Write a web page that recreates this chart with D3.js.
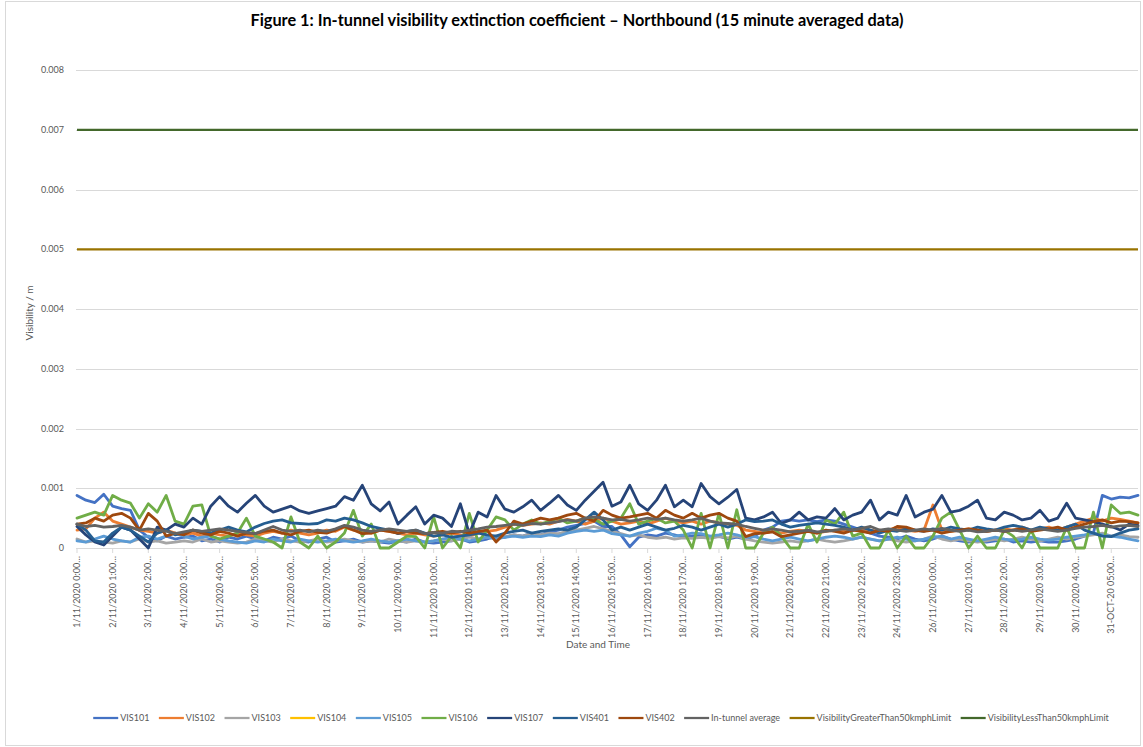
<!DOCTYPE html>
<html lang="en">
<head>
<meta charset="utf-8">
<style>
  body { margin: 0; background: #fff; }
  text { font-family: Lato, "Open Sans", sans-serif; fill: #595959; }
  .grid line { stroke: #d9d9d9; stroke-width: 1px; }
  .series { fill: none; stroke-width: 2.8px; stroke-linejoin: round; stroke-linecap: round; }
</style>
</head>
<body>
<svg width="1143" height="747"></svg>
<script src="https://d3js.org/d3.v7.min.js"></script>
<script>
// category labels shown on the x axis (one every 4 samples)
var tickLabels = ["1/11/2020 0:00", "2/11/2020 1:00", "3/11/2020 2:00", "4/11/2020 3:00", "5/11/2020 4:00",
    "6/11/2020 5:00", "7/11/2020 6:00", "8/11/2020 7:00", "9/11/2020 8:00", "10/11/2020 9:00",
    "11/11/2020 10:00", "12/11/2020 11:00", "13/11/2020 12:00", "14/11/2020 13:00", "15/11/2020 14:00",
    "16/11/2020 15:00", "17/11/2020 16:00", "18/11/2020 17:00", "19/11/2020 18:00", "20/11/2020 19:00",
    "21/11/2020 20:00", "22/11/2020 21:00", "23/11/2020 22:00", "24/11/2020 23:00", "26/11/2020 0:00",
    "27/11/2020 1:00", "28/11/2020 2:00", "29/11/2020 3:00", "30/11/2020 4:00", "31-OCT-20 05:00"];
var tickEvery = 4;

var yTicks = [0, 0.001, 0.002, 0.003, 0.004, 0.005, 0.006, 0.007, 0.008];

var vis101 = [0.00088,0.0008,0.00076,0.0009,0.0007,0.00066,0.00063,0.0003,0.00018,0.00012,
    0.0002,0.00015,0.00018,0.0002,0.00012,0.00015,0.0001,0.00018,0.00015,0.0002,
    0.00015,0.00012,0.00018,0.00015,0.0002,0.00012,0.0001,0.00015,0.00018,0.0001,
    0.00012,0.00015,0.0001,0.00012,0.0001,0.00008,0.00012,0.0001,0.00015,0.0001,
    0.00008,0.0001,0.00012,0.00015,0.0001,0.00012,0.00015,0.0002,0.00018,0.00022,
    0.0002,0.00025,0.00022,0.00027,0.0003,0.00035,0.00038,0.00041,0.00045,0.00036,
    0.00036,0.00022,0.00002,0.00018,0.00022,0.0002,0.00025,0.00022,0.00018,0.0002,
    0.00022,0.00018,0.0002,0.00015,0.00018,0.00015,0.0002,0.0003,0.00035,0.00045,
    0.00047,0.00045,0.00047,0.00044,0.00047,0.00045,0.0004,0.00035,0.0003,0.00025,
    0.0002,0.00018,0.00015,0.0002,0.00015,0.00012,0.00015,0.0002,0.00015,0.00012,
    0.0001,0.00012,0.0001,0.00012,0.00015,0.0001,0.00012,0.0001,0.00012,0.0001,
    0.0001,0.00012,0.00015,0.0002,0.00025,0.00088,0.00082,0.00085,0.00084,0.00088];

var vis102 = [0.0003,0.00032,0.0005,0.0006,0.00045,0.0004,0.00035,0.0003,0.00028,0.00025,
    0.0003,0.00025,0.00022,0.00025,0.0002,0.00025,0.00022,0.0002,0.00025,0.00022,
    0.0002,0.00025,0.00028,0.00025,0.0003,0.00025,0.00022,0.00025,0.0003,0.00028,
    0.00035,0.0003,0.00028,0.00025,0.0003,0.00028,0.00025,0.00022,0.00025,0.00022,
    0.0002,0.00022,0.00025,0.00022,0.0002,0.00025,0.00028,0.0003,0.00035,0.0004,
    0.00038,0.0004,0.00042,0.0004,0.00045,0.00048,0.00045,0.0004,0.00045,0.0005,
    0.00045,0.0004,0.00042,0.00045,0.0004,0.00045,0.0005,0.00045,0.00042,0.00045,
    0.0004,0.00045,0.00042,0.0004,0.00038,0.0003,0.00028,0.00025,0.00028,0.00025,
    0.00028,0.0003,0.00028,0.00025,0.00028,0.0003,0.00028,0.0003,0.00032,0.0003,
    0.00028,0.0003,0.00035,0.0003,0.00028,0.0003,0.00072,0.0003,0.00028,0.0003,
    0.00032,0.0003,0.00028,0.0003,0.00032,0.0003,0.00035,0.0003,0.00032,0.00035,
    0.0003,0.00035,0.0004,0.00045,0.0005,0.00045,0.0005,0.00048,0.00045,0.00042];

var vis103 = [0.00015,0.0001,0.00012,0.0001,0.00008,0.00012,0.0001,0.00015,0.0001,0.00012,
    0.00008,0.0001,0.00012,0.0001,0.00015,0.0001,0.00012,0.0001,0.00008,0.0001,
    0.00015,0.00012,0.0001,0.00015,0.00012,0.0001,0.00012,0.00015,0.0001,0.00012,
    0.00015,0.00012,0.0001,0.00012,0.0001,0.00015,0.00012,0.0001,0.00012,0.0001,
    0.00012,0.00015,0.00012,0.00015,0.00018,0.00015,0.00018,0.0002,0.00019,0.00022,
    0.0002,0.00024,0.00022,0.00025,0.00024,0.00028,0.0003,0.00033,0.00036,0.00032,
    0.00028,0.00024,0.0002,0.00022,0.00018,0.00016,0.00018,0.00015,0.00017,0.00016,
    0.00018,0.00016,0.00019,0.00017,0.0002,0.00015,0.00012,0.0001,0.00008,0.0001,
    0.00012,0.0001,0.00012,0.00015,0.00012,0.0001,0.00012,0.00015,0.00018,0.00015,
    0.00012,0.00015,0.00012,0.0001,0.00012,0.00015,0.0002,0.00015,0.00012,0.00015,
    0.00012,0.0001,0.00012,0.00015,0.00012,0.00015,0.00018,0.00015,0.00012,0.00015,
    0.00018,0.00015,0.00018,0.0002,0.00022,0.00025,0.0002,0.00022,0.00019,0.00018];

// VIS104 shows no readings in the chart
var vis104 = [];

var vis105 = [0.00012,0.0001,0.00015,0.0002,0.00015,0.00012,0.0001,0.00018,0.0002,0.00015,
    0.0002,0.00025,0.0002,0.00015,0.00018,0.0002,0.00015,0.00012,0.0001,0.00008,
    0.00012,0.0001,0.00015,0.00012,0.0001,0.00015,0.00012,0.0001,0.00012,0.00015,
    0.00012,0.0001,0.00012,0.00015,0.00012,0.0001,0.00012,0.00015,0.00012,0.0001,
    0.00012,0.00015,0.00018,0.00015,0.00012,0.00015,0.00018,0.00015,0.00018,0.0002,
    0.00018,0.0002,0.00019,0.00022,0.0002,0.00025,0.00028,0.0003,0.00028,0.0003,
    0.00024,0.00022,0.0002,0.00025,0.00028,0.00033,0.0003,0.0002,0.00022,0.00025,
    0.00024,0.0002,0.00022,0.00025,0.00022,0.00018,0.00019,0.00015,0.00012,0.00015,
    0.00018,0.00015,0.00012,0.00015,0.00018,0.0002,0.00018,0.00015,0.00018,0.00015,
    0.00012,0.00015,0.00018,0.00015,0.00012,0.00015,0.00018,0.0002,0.00015,0.00018,
    0.00015,0.00012,0.00015,0.00018,0.00015,0.00013,0.00015,0.00018,0.00015,0.00013,
    0.00015,0.00018,0.0002,0.00022,0.00025,0.00022,0.0002,0.00018,0.00015,0.00012];

var vis106 = [0.0005,0.00055,0.0006,0.00055,0.00088,0.0008,0.00075,0.0005,0.00074,0.0006,
    0.00088,0.00045,0.0004,0.0007,0.00072,0.0002,0.00015,0.0002,0.00025,0.0005,
    0.0002,0.00015,0.0001,0,0.00052,0.0001,0,0.0002,0,0.0001,
    0.00025,0.00063,0.0002,0.0004,0,0,0.0001,0.0002,0.00019,0,
    0.00052,0,0.0002,0,0.00058,0.0001,0.0003,0.00052,0.00047,0.0003,
    0.0004,0.00047,0.0004,0.00045,0.0005,0.00042,0.00045,0.0005,0.00048,0.0004,
    0.00045,0.0005,0.00074,0.0004,0.00045,0.0005,0.00042,0.00045,0.0003,0,
    0.00058,0,0.00058,0,0.00064,0,0,0.00025,0.00035,0.0002,
    0,0,0.0004,0.0001,0.00047,0.0004,0.0006,0.0002,0.00025,0,
    0,0.0003,0,0.0002,0,0,0.0002,0.0005,0.0006,0.0003,
    0,0.0002,0,0,0.0003,0.0002,0,0.0003,0,0,
    0,0.00035,0,0,0.0006,0,0.00072,0.00058,0.0006,0.00055];

var vis107 = [0.00036,0.00022,0.0001,0.00005,0.0002,0.00035,0.0003,0.00015,0,0.00035,
    0.0003,0.0004,0.00035,0.0005,0.0004,0.0007,0.00086,0.0007,0.0006,0.00075,
    0.00088,0.0007,0.0006,0.00065,0.0007,0.00062,0.00058,0.00062,0.00066,0.0007,
    0.00086,0.0008,0.00105,0.00074,0.00062,0.00077,0.0004,0.00055,0.00069,0.0004,
    0.00055,0.0005,0.00036,0.00074,0.00024,0.0006,0.00052,0.00088,0.00065,0.0006,
    0.00069,0.0008,0.00063,0.00075,0.00088,0.00072,0.00063,0.0008,0.00095,0.0011,
    0.0007,0.00077,0.00105,0.00074,0.00063,0.0008,0.00105,0.00069,0.0008,0.00069,
    0.00108,0.00086,0.00074,0.00085,0.00098,0.0005,0.00047,0.00052,0.0006,0.00041,
    0.00047,0.0006,0.00047,0.00052,0.0005,0.00066,0.00047,0.00055,0.0006,0.0008,
    0.00047,0.0006,0.00055,0.00088,0.00052,0.0006,0.00065,0.00088,0.0006,0.00063,
    0.0007,0.0008,0.0005,0.00047,0.0006,0.00055,0.00047,0.0005,0.00063,0.00045,
    0.0005,0.00075,0.0005,0.00047,0.00044,0.0004,0.00036,0.0003,0.0004,0.00038];

var vis401 = [0.0004,0.0003,0.00012,0.0001,0.00025,0.00035,0.0003,0.0002,0.0001,0.00025,
    0.0003,0.00022,0.00025,0.0003,0.00028,0.00025,0.0003,0.00035,0.0003,0.00027,
    0.00035,0.00041,0.00045,0.00047,0.00042,0.00041,0.0004,0.00041,0.00047,0.00045,
    0.0005,0.00047,0.00042,0.00036,0.00033,0.0003,0.00024,0.00028,0.0003,0.00025,
    0.0002,0.00022,0.00018,0.0002,0.00022,0.00025,0.00022,0.0002,0.00025,0.00028,
    0.0003,0.00025,0.00028,0.0003,0.00032,0.0003,0.00035,0.00047,0.0006,0.00047,
    0.0003,0.00035,0.0003,0.00035,0.0004,0.00035,0.0003,0.00033,0.00038,0.00035,
    0.0003,0.00035,0.0004,0.00035,0.0004,0.00047,0.00044,0.00045,0.00047,0.0004,
    0.00035,0.00038,0.0004,0.00042,0.0004,0.00038,0.00035,0.0003,0.00035,0.0003,
    0.00025,0.0003,0.00028,0.00032,0.0003,0.00028,0.00032,0.0003,0.00035,0.00032,
    0.0003,0.00035,0.00032,0.0003,0.00035,0.00038,0.00035,0.0003,0.00035,0.00032,
    0.0003,0.00035,0.0004,0.0003,0.00025,0.0002,0.00019,0.00025,0.0003,0.00032];

var vis402 = [0.0004,0.00042,0.0005,0.00045,0.00055,0.00058,0.0005,0.0003,0.00058,0.00045,
    0.0002,0.00025,0.00022,0.0003,0.00025,0.00022,0.00028,0.00025,0.0002,0.00025,
    0.00024,0.00028,0.0003,0.00025,0.00022,0.00028,0.0003,0.00026,0.00025,0.0003,
    0.00036,0.0003,0.00024,0.00025,0.0003,0.00028,0.00025,0.00028,0.00025,0.00024,
    0.00026,0.00028,0.00025,0.00028,0.00025,0.00028,0.0003,0.0001,0.00025,0.00045,
    0.0004,0.00045,0.0005,0.00047,0.0005,0.00055,0.00058,0.0005,0.00045,0.00063,
    0.00055,0.0005,0.00052,0.00055,0.00058,0.0005,0.00063,0.00055,0.0005,0.00058,
    0.0005,0.00055,0.00058,0.0005,0.00045,0.00019,0.00024,0.00025,0.00027,0.00019,
    0.00022,0.00025,0.00028,0.00025,0.0003,0.00028,0.00025,0.0003,0.00028,0.00025,
    0.0003,0.00028,0.00036,0.00035,0.0003,0.00028,0.0003,0.00025,0.00028,0.0003,
    0.00032,0.0003,0.00028,0.0003,0.00028,0.0003,0.00032,0.00028,0.0003,0.00032,
    0.00035,0.0003,0.00035,0.0004,0.00044,0.00047,0.00042,0.00045,0.00044,0.00042];

var tunnelAverage = [0.0004,0.00036,0.00038,0.00035,0.00036,0.00038,0.00035,0.0003,0.00032,0.0003,
    0.00028,0.00024,0.00027,0.0003,0.00028,0.0003,0.00032,0.0003,0.00028,0.00026,
    0.00024,0.0003,0.00036,0.0003,0.00028,0.0003,0.00027,0.0003,0.00028,0.00032,
    0.00038,0.00035,0.0003,0.00028,0.0003,0.00032,0.0003,0.00028,0.0003,0.00024,
    0.00026,0.00025,0.00028,0.00027,0.0003,0.00032,0.00035,0.00036,0.00038,0.0004,
    0.00038,0.00041,0.0004,0.00042,0.00044,0.00047,0.00045,0.0005,0.00052,0.0005,
    0.00047,0.00048,0.00045,0.00047,0.0005,0.00048,0.0005,0.00047,0.00045,0.00047,
    0.0005,0.00045,0.00042,0.00041,0.0004,0.00036,0.00033,0.0003,0.00032,0.0003,
    0.00027,0.00028,0.0003,0.00027,0.00028,0.0003,0.00032,0.0003,0.00033,0.00036,
    0.0003,0.00032,0.0003,0.00028,0.0003,0.00032,0.0003,0.00033,0.0003,0.00028,
    0.0003,0.00027,0.00028,0.0003,0.00028,0.0003,0.00028,0.0003,0.00032,0.0003,
    0.00028,0.0003,0.00033,0.00035,0.00036,0.00038,0.00035,0.00037,0.00038,0.00036];

// limits are flat across the whole period
var greaterLimit = 0.005;
var lessLimit = 0.007;

var seriesNames = ["VIS101", "VIS102", "VIS103", "VIS104", "VIS105", "VIS106", "VIS107", "VIS401", "VIS402",
    "In-tunnel average", "VisibilityGreaterThan50kmphLimit", "VisibilityLessThan50kmphLimit"];
var seriesColors = ["#4472c4", "#ed7d31", "#a5a5a5", "#ffc000", "#5b9bd5", "#70ad47", "#264478", "#255e91",
    "#9e480e", "#636363", "#997300", "#43682b"];

var svg = d3.select("svg"),
    width = +svg.attr("width"),
    height = +svg.attr("height");

var n = vis101.length;
var x = d3.scaleLinear().domain([0, n - 1]).range([77, 1138]);
var y = d3.scaleLinear().domain([0, 0.008]).range([548, 70]);

// chart border
svg.append("rect")
    .attr("x", 5.5).attr("y", 1.5)
    .attr("width", 1135).attr("height", 744)
    .attr("fill", "none").attr("stroke", "#d9d9d9");

svg.append("text")
    .attr("x", 577).attr("y", 26)
    .attr("text-anchor", "middle")
    .style("font-size", "16.3px").style("font-weight", "bold").style("fill", "#000")
    .text("Figure 1: In-tunnel visibility extinction coefficient \u2013 Northbound (15 minute averaged data)");

// gridlines + y labels
var grid = svg.append("g").attr("class", "grid");
grid.selectAll("line").data(yTicks).enter().append("line")
    .attr("x1", 76).attr("x2", 1138)
    .attr("y1", function (d) { return Math.round(y(d)) + 0.5; })
    .attr("y2", function (d) { return Math.round(y(d)) + 0.5; });

svg.append("g").selectAll("text").data(yTicks).enter().append("text")
    .attr("x", 64)
    .attr("y", function (d) { return y(d); })
    .attr("dy", "0.35em")
    .attr("text-anchor", "end")
    .style("font-size", "9px")
    .text(function (d) { return d === 0 ? "0" : d3.format(".3f")(d); });

svg.append("text")
    .attr("transform", "translate(33," + 313 + ") rotate(-90)")
    .attr("text-anchor", "middle")
    .style("font-size", "10px")
    .text("Visibility / m");

// x ticks and labels
var xt = svg.append("g");
tickLabels.forEach(function (lab, k) {
    var px = x(k * tickEvery);
    xt.append("line")
        .attr("x1", px).attr("x2", px).attr("y1", 549).attr("y2", 553)
        .attr("stroke", "#d9d9d9");
    xt.append("text")
        .attr("transform", "translate(" + px + ",556) rotate(-90)")
        .attr("dy", "0.35em")
        .attr("text-anchor", "end")
        .style("font-size", "9px")
        .text(lab + "\u2026");
});

svg.append("text")
    .attr("x", 598).attr("y", 648)
    .attr("text-anchor", "middle")
    .style("font-size", "10px")
    .text("Date and Time");

// data lines
var line = d3.line()
    .x(function (d, i) { return x(i); })
    .y(function (d) { return y(d); });

var sensorSeries = [vis101, vis102, vis103, vis104, vis105, vis106, vis107, vis401, vis402, tunnelAverage];
var lines = svg.append("g");
sensorSeries.forEach(function (vals, s) {
    if (!vals.length) return;
    lines.append("path")
        .attr("class", "series")
        .attr("stroke", seriesColors[s])
        .attr("d", line(vals));
});

[greaterLimit, lessLimit].forEach(function (v, j) {
    lines.append("line")
        .attr("x1", x(0)).attr("x2", x(n - 1))
        .attr("y1", y(v)).attr("y2", y(v))
        .attr("stroke", seriesColors[10 + j])
        .attr("stroke-width", 2.25);
});

// legend
var legend = svg.append("g");
var lx = 0;
seriesNames.forEach(function (name, i) {
    var g = legend.append("g").attr("transform", "translate(" + lx + ",0)");
    g.append("line")
        .attr("x1", 0).attr("x2", 25).attr("y1", 0).attr("y2", 0)
        .attr("stroke", seriesColors[i]).attr("stroke-width", 2.25);
    var t = g.append("text")
        .attr("x", 27).attr("dy", "0.35em")
        .style("font-size", "9px")
        .text(name);
    lx += 27 + t.node().getComputedTextLength() + 9.5;
});
lx -= 9.5;
legend.attr("transform", "translate(" + (601 - lx / 2) + ",718)");
</script>
</body>
</html>
